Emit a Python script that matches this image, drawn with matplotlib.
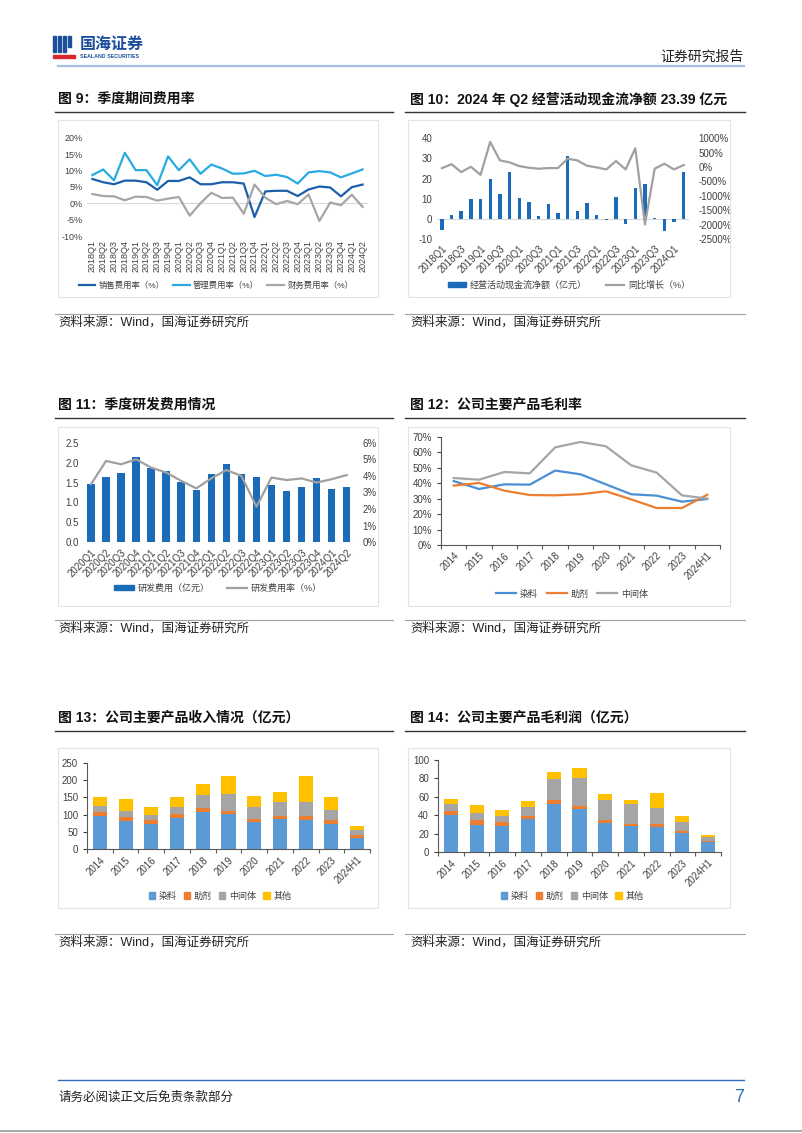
import matplotlib
matplotlib.use("Agg")
import matplotlib.pyplot as plt
from matplotlib.lines import Line2D
from matplotlib.patches import Rectangle, Patch

plt.rcParams['font.family'] = ['Liberation Sans', 'Noto Sans CJK SC']
plt.rcParams['axes.unicode_minus'] = False

# ---- data -------------------------------------------------------------
q9 = ['2018Q1', '2018Q2', '2018Q3', '2018Q4', '2019Q1', '2019Q2', '2019Q3',
      '2019Q4', '2020Q1', '2020Q2', '2020Q3', '2020Q4', '2021Q1', '2021Q2',
      '2021Q3', '2021Q4', '2022Q1', '2022Q2', '2022Q3', '2022Q4', '2023Q1',
      '2023Q2', '2023Q3', '2023Q4', '2024Q1', '2024Q2']
sales_rate = [7.4, 6.4, 5.8, 6.9, 6.9, 6.4, 4.1, 6.8, 6.8, 7.9, 5.8, 5.8, 6.4,
              6.4, 6.0, -4.2, 3.6, 3.8, 3.8, 2.2, 4.2, 5.1, 4.8, 2.1, 4.9, 5.7]
admin_rate = [8.6, 10.3, 7.0, 15.4, 10.1, 10.1, 5.5, 14.3, 10.1, 13.4, 9.0,
              11.8, 10.6, 9.0, 9.1, 9.9, 8.3, 8.7, 8.0, 6.0, 9.4, 9.8, 9.4,
              7.9, 9.1, 10.3]
fin_rate = [2.8, 2.2, 2.1, 0.9, 2.0, 1.9, 0.8, 1.4, 1.9, -3.8, 0.0, 3.2, 1.6,
            1.7, -3.2, 5.7, 1.7, -0.3, 0.7, -0.3, 2.7, -5.4, 0.2, -0.6, 2.6, -1.1]

cash_flow = [-5.3, 2.0, 4.0, 9.8, 10.1, 19.7, 12.1, 23.3, 10.3, 8.6, 1.2, 7.3,
             3.1, 31.1, 3.8, 8.1, 2.0, -0.8, 11.1, -2.8, 15.2, 17.4, 0.3, -5.8,
             -1.7, 23.39]
cash_yoy = [-40, 100, -175, 10, -270, 875, 233, 163, 35, -23, -58, -35, -35,
            290, 233, 47, -12, -82, 210, -82, 653, -1993, -58, 117, -82, 70]

q11 = q9[8:]
rd_cost = [1.47, 1.65, 1.75, 2.13, 1.87, 1.80, 1.52, 1.32, 1.72, 1.97, 1.72,
           1.65, 1.45, 1.30, 1.39, 1.62, 1.35, 1.39]
rd_rate = [3.5, 4.9, 4.7, 5.0, 4.5, 4.2, 3.7, 3.25, 3.85, 4.35, 4.0, 2.15, 3.9,
           3.75, 3.85, 3.6, 3.8, 4.05]

years = ['2014', '2015', '2016', '2017', '2018', '2019', '2020', '2021',
         '2022', '2023', '2024H1']
gm_dye = [41.3, 36.2, 39.2, 39.0, 48.1, 45.7, 39.2, 32.8, 31.9, 28.0, 29.7]
gm_aux = [38.4, 40.1, 35.1, 32.3, 32.1, 32.8, 34.7, 29.5, 23.9, 23.9, 32.5]
gm_mid = [43.3, 42.2, 47.2, 46.3, 63.1, 66.6, 63.8, 51.5, 46.8, 32.1, 30.0]

rev_dye = [96, 82, 72, 89, 109, 101, 79, 87, 85, 73, 34]
rev_aux = [11, 11, 12, 12, 10, 11, 8, 10, 11, 11, 8]
rev_mid = [19, 18, 14, 20, 38, 47, 35, 40, 40, 30, 14]
rev_oth = [26, 35, 23, 29, 32, 53, 33, 28, 76, 38, 11]

gp_dye = [40.0, 30.0, 28.5, 35.7, 52.7, 46.6, 31.4, 28.5, 27.0, 20.6, 10.8]
gp_aux = [4.4, 4.7, 4.4, 3.7, 4.0, 3.9, 3.3, 2.5, 3.3, 2.1, 1.1]
gp_mid = [8.0, 7.5, 6.8, 9.7, 22.3, 30.4, 22.0, 21.4, 17.7, 10.5, 5.1]
gp_oth = [5.0, 8.8, 6.1, 6.5, 8.0, 10.8, 6.5, 3.9, 15.9, 6.2, 2.1]

W, H = 802, 1133
TXT = '#404040'


def rect(l, t, r, b):
    return [l / W, 1 - b / H, (r - l) / W, (b - t) / H]


def hline(fig, x0, x1, y, color, lw):
    fig.add_artist(Line2D([x0 / W, x1 / W], [1 - y / H, 1 - y / H],
                          transform=fig.transFigure, color=color, lw=lw))


def ftext(fig, x, y, s, **kw):
    fig.text(x / W, 1 - y / H, s, **kw)


def box(fig, l, t, r, b):
    fig.add_artist(Rectangle((l / W, 1 - b / H), (r - l) / W, (b - t) / H,
                             transform=fig.transFigure, fill=False,
                             ec='#E3E3E3', lw=0.8))


def legend(ax, fig, handles, labels, x, y, fontsize=6.5, **kw):
    ax.legend(handles, labels, loc='center', bbox_to_anchor=(x / W, 1 - y / H),
              bbox_transform=fig.transFigure, ncol=len(labels), frameon=False,
              fontsize=fontsize, labelcolor=TXT, handletextpad=0.4, **kw)


def cat_axes(ax, n):
    # axis style of the Excel category charts (left + bottom spines)
    for side in ('top', 'right'):
        ax.spines[side].set_visible(False)
    for side in ('left', 'bottom'):
        ax.spines[side].set_color('#595959')
        ax.spines[side].set_linewidth(0.8)
    ax.set_xlim(-0.5, n - 0.5)
    ax.set_xticks([i - 0.5 for i in range(n + 1)])
    ax.set_xticklabels([])
    ax.set_xticks(range(n), minor=True)
    ax.set_xticklabels(years, minor=True, rotation=45, ha='right',
                       rotation_mode='anchor')
    ax.tick_params(axis='x', which='major', length=3, color='#595959')
    ax.tick_params(axis='x', which='minor', length=0, pad=4)
    ax.tick_params(axis='y', length=3, color='#595959')
    ax.tick_params(labelsize=7, colors=TXT, which='both')
    ax.tick_params(axis='x', which='both', colors='#595959', labelcolor=TXT)


fig = plt.figure(figsize=(8.02, 11.33), dpi=100)

# ---- page header / footer ---------------------------------------------
logo_blue = '#1C4E9C'
for l, t, r, b in [(53, 36, 56, 52), (58, 36, 61, 52), (63, 36, 66, 52),
                   (68, 36, 71, 47), (53, 55, 75, 58)]:
    fig.add_artist(Rectangle((l / W, 1 - b / H), (r - l) / W, (b - t) / H,
                             transform=fig.transFigure,
                             color='#D7262E' if b == 58 else logo_blue))
ftext(fig, 80, 44, '国海证券', fontsize=11.5, color=logo_blue, weight='bold',
      va='center')
ftext(fig, 80, 57, 'SEALAND SECURITIES', fontsize=3.8, color=logo_blue,
      weight='bold', va='center')
ftext(fig, 744, 57, '证券研究报告', fontsize=10, color='#222222', ha='right',
      va='center')
hline(fig, 58, 744, 66, '#A9C0E4', 1.6)

hline(fig, 58, 744, 1080, '#2F6DBE', 1.0)
ftext(fig, 58, 1098, '请务必阅读正文后免责条款部分', fontsize=9, color='#222222',
      va='center')
ftext(fig, 744, 1098, '7', fontsize=13, color='#2F6DBE', ha='right',
      va='center')
hline(fig, 0, 802, 1131, '#9A9A9A', 1.2)

titles = [('图 9：季度期间费用率', '图 10：2024 年 Q2 经营活动现金流净额 23.39 亿元', 99),
          ('图 11：季度研发费用情况', '图 12：公司主要产品毛利率', 405),
          ('图 13：公司主要产品收入情况（亿元）', '图 14：公司主要产品毛利润（亿元）', 718)]
for left_t, right_t, y in titles:
    ftext(fig, 58, y, left_t, fontsize=10, weight='bold', color='#111111',
          va='center')
    ftext(fig, 410, y, right_t, fontsize=10, weight='bold', color='#111111',
          va='center')
    hline(fig, 55, 393, y + 13, '#333333', 1.0)
    hline(fig, 405, 745, y + 13, '#333333', 1.0)

for y in (322, 628, 942):
    hline(fig, 55, 393, y - 8, '#A0A0A0', 0.8)
    hline(fig, 405, 745, y - 8, '#A0A0A0', 0.8)
    ftext(fig, 58, y, '资料来源：Wind，国海证券研究所', fontsize=9,
          color='#222222', va='center')
    ftext(fig, 410, y, '资料来源：Wind，国海证券研究所', fontsize=9,
          color='#222222', va='center')

for t, b in [(120, 297), (427, 606), (748, 908)]:
    box(fig, 58, t, 378, b)
    box(fig, 408, t, 730, b)

# ---- 图9 季度期间费用率 -----------------------------------------------
ax = fig.add_axes(rect(87, 137.7, 368, 236))
x = range(len(q9))
ax.axhline(0, color='#D9D9D9', lw=0.8)
l1, = ax.plot(x, sales_rate, color='#1B5FAA', lw=1.6)
l2, = ax.plot(x, admin_rate, color='#29ABE2', lw=1.6)
l3, = ax.plot(x, fin_rate, color='#A6A6A6', lw=1.6)
ax.set_xlim(-0.5, len(q9) - 0.5)
ax.set_ylim(-10, 20)
ax.set_yticks(range(-10, 21, 5))
ax.set_yticklabels([f'{v}%' for v in range(-10, 21, 5)])
ax.set_xticks(list(x))
ax.set_xticklabels(q9, rotation=90)
for s in ax.spines.values():
    s.set_visible(False)
ax.tick_params(length=0, labelsize=6.5, colors=TXT, pad=3)
legend(ax, fig, [l1, l2, l3], ['销售费用率（%）', '管理费用率（%）', '财务费用率（%）'],
       216, 286, fontsize=6, handlelength=2.0, columnspacing=1.0)

# ---- 图10 经营活动现金流 -----------------------------------------------
ax = fig.add_axes(rect(437, 138.3, 688.5, 239))
x = list(range(len(q9)))
ax.axhline(0, color='#D9D9D9', lw=0.8)
ax.bar(x, cash_flow, width=0.35, color='#1A6CB8', zorder=2)
ax.set_xlim(-0.5, len(q9) - 0.5)
ax.set_ylim(-10, 40)
ax.set_yticks(range(-10, 41, 10))
ax.set_xticks(x[::2])
ax.set_xticklabels(q9[::2], rotation=45, ha='right', rotation_mode='anchor')
for s in ax.spines.values():
    s.set_visible(False)
ax.tick_params(length=0, labelsize=7, colors=TXT)
ax2 = ax.twinx()
ln, = ax2.plot(x, cash_yoy, color='#A0A0A0', lw=1.6)
ax2.set_ylim(-2500, 1000)
ax2.set_yticks(range(-2500, 1001, 500))
ax2.set_yticklabels([f'{v}%' for v in range(-2500, 1001, 500)])
for s in ax2.spines.values():
    s.set_visible(False)
ax2.tick_params(length=0, labelsize=7, colors=TXT, pad=7)
legend(ax2, fig, [Patch(color='#1A6CB8'), ln], ['经营活动现金流净额（亿元）', '同比增长（%）'],
       569, 285, handlelength=2.0, handleheight=0.5, columnspacing=2.2)

# ---- 图11 季度研发费用 -------------------------------------------------
ax = fig.add_axes(rect(83.5, 442.7, 354.2, 542.3))
x = list(range(len(q11)))
ax.axhline(0, color='#D9D9D9', lw=0.8)
ax.bar(x, rd_cost, width=0.5, color='#1A6CB8', zorder=2)
ax.set_xlim(-0.5, len(q11) - 0.5)
ax.set_ylim(0, 2.5)
ax.set_yticks([0, 0.5, 1.0, 1.5, 2.0, 2.5])
ax.set_yticklabels(['0.0', '0.5', '1.0', '1.5', '2.0', '2.5'])
ax.set_xticks(x)
ax.set_xticklabels(q11, rotation=45, ha='right', rotation_mode='anchor')
for s in ax.spines.values():
    s.set_visible(False)
ax.tick_params(length=0, labelsize=7, colors=TXT)
ax2 = ax.twinx()
ln, = ax2.plot(x, rd_rate, color='#A0A0A0', lw=1.6)
ax2.set_ylim(0, 6)
ax2.set_yticks(range(0, 7))
ax2.set_yticklabels([f'{v}%' for v in range(0, 7)])
for s in ax2.spines.values():
    s.set_visible(False)
ax2.tick_params(length=0, labelsize=7, colors=TXT, pad=6)
legend(ax2, fig, [Patch(color='#1A6CB8'), ln], ['研发费用（亿元）', '研发费用率（%）'],
       218, 588, handlelength=2.2, handleheight=0.5, columnspacing=2.0)

# ---- 图12 毛利率 --------------------------------------------------------
ax = fig.add_axes(rect(441, 436.7, 720, 545))
x = list(range(len(years)))
h1, = ax.plot(x, gm_dye, color='#4A8FD6', lw=1.6)
h2, = ax.plot(x, gm_aux, color='#ED7D31', lw=1.6)
h3, = ax.plot(x, gm_mid, color='#A5A5A5', lw=1.6)
cat_axes(ax, len(years))
ax.set_ylim(0, 70)
ax.set_yticks(range(0, 71, 10))
ax.set_yticklabels([f'{v}%' for v in range(0, 71, 10)])
legend(ax, fig, [h1, h2, h3], ['染料', '助剂', '中间体'], 572, 594,
       handlelength=2.2, columnspacing=1.0)

# ---- 图13 / 图14 堆积柱 ----------------------------------------------------
stack_colors = ['#5B9BD5', '#ED7D31', '#A5A5A5', '#FFC000']
stack_names = ['染料', '助剂', '中间体', '其他']
panels = [((87, 762.7, 370, 849.3), [rev_dye, rev_aux, rev_mid, rev_oth],
           250, 50, 220),
          ((438, 760, 721, 852.3), [gp_dye, gp_aux, gp_mid, gp_oth],
           100, 20, 572)]
for pos, series, top, step, lx in panels:
    ax = fig.add_axes(rect(*pos))
    x = list(range(len(years)))
    base = [0] * len(years)
    handles = []
    for vals, c in zip(series, stack_colors):
        ax.bar(x, vals, bottom=base, width=0.55, color=c, zorder=2)
        handles.append(Patch(color=c))
        base = [b + v for b, v in zip(base, vals)]
    cat_axes(ax, len(years))
    ax.set_ylim(0, top)
    ax.set_yticks(range(0, top + 1, step))
    legend(ax, fig, handles, stack_names, lx, 896, handlelength=0.7,
           handleheight=0.7, columnspacing=0.8)

fig.savefig('out.png', dpi=100)
